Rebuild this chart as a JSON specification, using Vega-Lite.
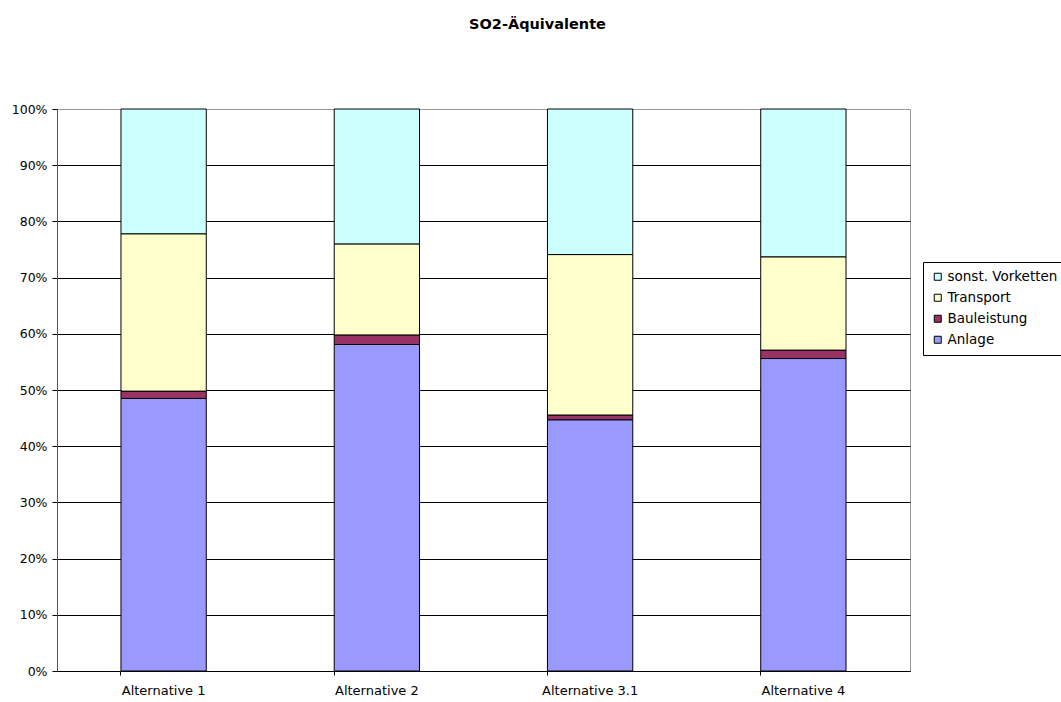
{
  "$schema": "https://vega.github.io/schema/vega-lite/v6.json",
  "width": 853,
  "height": 562,
  "autosize": {"type": "none"},
  "padding": {"left": 57, "top": 109, "right": 151, "bottom": 31},
  "background": "white",
  "title": {
    "text": "SO2-Äquivalente",
    "font": "DejaVu Sans",
    "fontSize": 14.5,
    "fontWeight": "bold",
    "color": "black",
    "anchor": "middle",
    "dx": 54,
    "offset": 71
  },
  "config": {
    "view": {"stroke": "#999", "strokeWidth": 1},
    "font": "DejaVu Sans"
  },
  "data": {
    "values": [
      {"alt": "Alternative 1", "kat": "Anlage", "o": 1, "v": 48.5},
      {"alt": "Alternative 1", "kat": "Bauleistung", "o": 2, "v": 1.3},
      {"alt": "Alternative 1", "kat": "Transport", "o": 3, "v": 28.0},
      {"alt": "Alternative 1", "kat": "sonst. Vorketten", "o": 4, "v": 22.2},
      {"alt": "Alternative 2", "kat": "Anlage", "o": 1, "v": 58.1},
      {"alt": "Alternative 2", "kat": "Bauleistung", "o": 2, "v": 1.7},
      {"alt": "Alternative 2", "kat": "Transport", "o": 3, "v": 16.2},
      {"alt": "Alternative 2", "kat": "sonst. Vorketten", "o": 4, "v": 24.0},
      {"alt": "Alternative 3.1", "kat": "Anlage", "o": 1, "v": 44.7},
      {"alt": "Alternative 3.1", "kat": "Bauleistung", "o": 2, "v": 0.85},
      {"alt": "Alternative 3.1", "kat": "Transport", "o": 3, "v": 28.55},
      {"alt": "Alternative 3.1", "kat": "sonst. Vorketten", "o": 4, "v": 25.9},
      {"alt": "Alternative 4", "kat": "Anlage", "o": 1, "v": 55.6},
      {"alt": "Alternative 4", "kat": "Bauleistung", "o": 2, "v": 1.5},
      {"alt": "Alternative 4", "kat": "Transport", "o": 3, "v": 16.6},
      {"alt": "Alternative 4", "kat": "sonst. Vorketten", "o": 4, "v": 26.3}
    ]
  },
  "mark": {"type": "bar", "stroke": "black", "strokeWidth": 1},
  "encoding": {
    "x": {
      "field": "alt",
      "type": "nominal",
      "sort": null,
      "title": null,
      "scale": {"paddingInner": 0.6, "paddingOuter": 0.3},
      "axis": {
        "labelAngle": 0,
        "labelFontSize": 13,
        "labelColor": "black",
        "labelPadding": 9,
        "bandPosition": 0,
        "tickSize": 4,
        "tickColor": "black",
        "domainColor": "black",
        "grid": false
      }
    },
    "y": {
      "field": "v",
      "type": "quantitative",
      "stack": "normalize",
      "title": null,
      "scale": {"domain": [0, 1], "nice": false},
      "axis": {
        "values": [0, 0.1, 0.2, 0.3, 0.4, 0.5, 0.6, 0.7, 0.8, 0.9, 1],
        "format": ".0%",
        "labelFontSize": 12.5,
        "labelColor": "black",
        "labelPadding": 5,
        "tickSize": 5,
        "tickColor": "black",
        "domainColor": "#555",
        "grid": true,
        "gridColor": {"condition": {"test": "datum.value == 1", "value": "#999"}, "value": "#000"},
        "gridOpacity": 1
      }
    },
    "fill": {
      "field": "kat",
      "type": "nominal",
      "scale": {
        "domain": ["sonst. Vorketten", "Transport", "Bauleistung", "Anlage"],
        "range": ["#CCFFFF", "#FFFFCC", "#993366", "#9999FF"]
      },
      "legend": {
        "title": null,
        "orient": "none",
        "legendX": 866,
        "legendY": 153,
        "strokeColor": "black",
        "fillColor": "white",
        "padding": 8,
        "symbolType": "square",
        "symbolSize": 49,
        "symbolStrokeColor": "black",
        "symbolStrokeWidth": 1,
        "labelFontSize": 13.5,
        "labelColor": "black",
        "labelOffset": 3,
        "rowPadding": 6,
        "labelLimit": 200
      }
    },
    "order": {"field": "o", "type": "quantitative"}
  }
}
